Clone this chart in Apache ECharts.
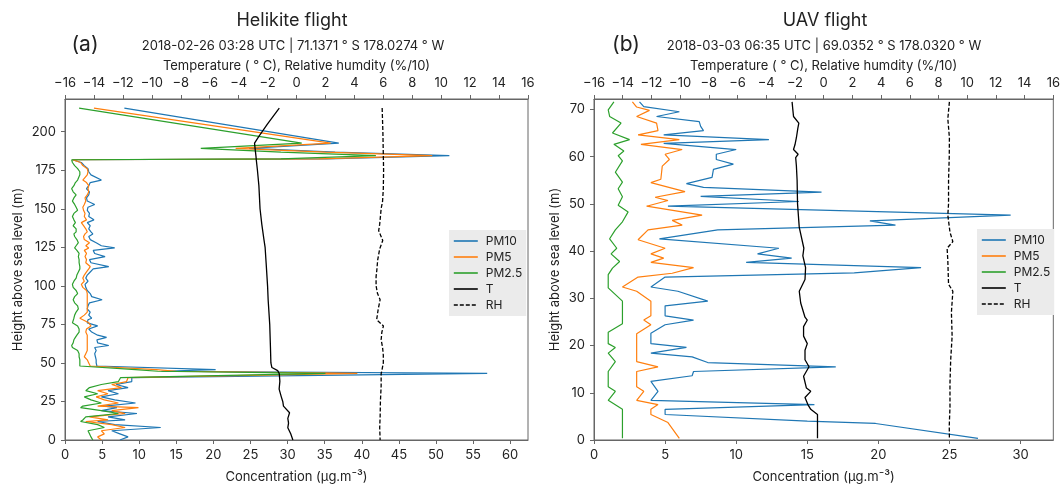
<!DOCTYPE html>
<html>
<head>
<meta charset="utf-8">
<script src="https://cdn.jsdelivr.net/npm/echarts@6/dist/echarts.min.js"></script>
<style>
html,body{margin:0;padding:0;background:#fff;}
#c{width:1063px;height:489px;}
</style>
</head>
<body>
<div id="c"></div>
<script>
// ---------------- DATA ----------------
// Helikite flight (a)
const heliHeight = [215.3,192.6,189.2,186.7,184.5,182.4,181.8,180,178,176,174,172,168.6,167,165,163,161,159,157,155,152.8,151,149,147,145,142.8,141,139,137,135,133.7,132,130,128,126,124.6,123,121,119,117,115,112.5,111,109,107,105,103,101,99,97,95,93,91,89,87,85,83,81,79,78,76,74,72,70,68,66.6,65,63,61.3,60,58,56,54,52,50,48,47.4,45.7,44.6,43.2,40.5,37.9,36,34,32,30,28,26,24,22,21,19,17.2,15,13,12,10,8.1,6,4,2,0];
const heliPM10 = [8.0,36.9,24.8,36.4,51.8,35.3,1.0,2.2,2.6,3.1,3.2,3.5,4.9,3.4,3.2,2.9,3.3,3.2,2.9,3.0,4.0,3.1,3.0,3.3,3.2,3.9,3.0,3.4,3.2,3.5,3.75,3.2,3.4,4.2,4.9,6.7,3.8,4.0,5.4,3.3,3.5,5.9,3.8,3.4,3.0,2.8,3.1,2.7,2.8,3.0,3.4,3.6,5.0,3.3,3.1,3.0,3.4,3.2,3.6,3.1,3.0,4.4,3.2,3.6,4.4,5.6,4.3,4.4,5.9,4.0,4.2,4.0,4.1,4.2,4.2,4.3,4.2,20.3,13.0,56.9,9.0,9.0,6.9,8.5,5.8,7.2,4.9,6.7,9.5,5.3,7.0,4.9,9.7,5.8,8.1,4.4,6.7,12.9,6.3,7.4,8.5,7.4];
const heliPM5 = [3.9,35.8,23.0,35.1,49.5,34.2,1.0,2.1,2.4,3.0,3.1,3.0,2.4,2.9,3.2,3.1,3.2,3.0,2.7,2.8,2.6,2.4,2.5,2.7,2.6,2.9,2.2,2.5,2.8,3.0,2.7,2.5,2.6,3.3,2.8,3.2,2.6,2.9,2.7,2.9,2.8,3.4,3.2,2.9,2.6,2.4,2.6,2.2,2.4,2.9,3.0,3.0,3.0,3.0,3.0,3.0,3.0,2.6,2.0,2.2,3.2,3.5,2.9,2.8,3.0,3.0,3.0,3.0,3.0,3.0,3.0,2.8,2.6,3.0,3.2,3.4,3.5,12.3,15.0,39.4,8.5,8.3,6.3,7.6,4.4,5.8,4.2,5.3,7.2,4.4,9.9,6.3,8.1,3.3,5.8,2.8,6.3,8.1,4.9,5.3,4.4,4.9];
const heliPM25 = [1.9,31.9,18.3,29.1,41.9,29.1,0.9,1.0,1.3,1.7,2.0,2.0,1.7,1.4,1.2,0.9,1.1,1.5,1.2,1.0,1.3,1.5,1.7,1.2,1.0,1.2,1.4,1.1,1.5,1.5,1.2,1.3,1.6,1.8,1.5,1.3,1.6,1.9,1.8,1.9,1.9,2.0,2.0,1.8,1.6,1.5,1.2,1.0,1.1,1.5,1.7,1.3,1.1,1.3,1.7,1.8,1.5,1.3,1.2,1.4,1.0,1.7,1.9,1.9,1.6,1.4,1.2,1.1,0.9,1.0,1.7,1.9,1.9,2.0,2.0,2.0,2.0,9.5,12.5,35.1,7.5,7.2,4.9,3.3,2.8,4.4,2.6,3.5,4.9,2.4,2.1,4.9,7.2,2.8,2.4,2.1,4.4,5.3,3.1,3.3,3.5,3.75];
const heliTHeight = [215.3,205,197,192.6,188,184,181.8,175,165,150,140,130,125,115,100,91,75,60,50,47,45,43,38,33,28,25,22,17.7,14,11,8,4,0];
const heliT = [-1.19,-2.0,-2.6,-2.9,-2.85,-2.8,-2.78,-2.7,-2.6,-2.52,-2.4,-2.25,-2.17,-2.1,-2.0,-1.96,-1.85,-1.8,-1.77,-1.7,-1.3,-1.19,-1.15,-1.2,-1.05,-0.95,-0.9,-0.48,-0.6,-0.55,-0.6,-0.4,-0.25];
const heliRHHeight = [215.3,200,185,175,163,155,150,140,135.8,129.4,124,116.7,110,106,100,95,91,85,78,74,70,65,60,55,50,45,43,35,25,15,8,0];
const heliRH = [5.92,5.97,6.0,6.02,6.0,5.95,5.85,5.75,5.68,5.96,5.75,5.61,5.55,5.5,5.5,5.6,5.78,5.65,5.54,6.01,5.9,5.85,5.95,6.0,6.0,5.9,5.85,5.85,5.8,5.78,5.75,5.78];

// UAV flight (b)
const uavPM10Height = [71.6,70.6,69.5,68.5,67.4,66.4,65.5,64.6,63.6,62.8,61.5,60.5,59.4,58.4,57.3,55.6,54.3,53.5,52.5,51.6,50.5,49.5,47.6,46.4,45.5,44.5,42.6,40.6,39.4,38.5,37.6,36.5,35.4,34.5,32.4,31.5,29.4,28.4,26.3,25.4,24.4,22.6,20.4,19.6,18.4,17.6,16.4,15.5,14.5,13.6,12.4,10.3,8.4,7.5,6.5,5.4,4.0,3.5,0.35];
const uavPM10 = [3.2,3.5,6.0,4.4,7.4,7.5,7.7,4.9,12.3,4.9,10.0,8.6,8.6,9.8,8.4,8.3,6.5,7.7,16.0,7.5,14.4,5.2,29.3,19.4,21.2,8.7,4.6,13.0,11.5,13.9,10.7,23.0,18.3,5.0,4.0,5.9,8.0,5.0,5.0,7.0,5.0,4.0,4.0,6.5,4.0,6.9,8.0,17.0,7.0,6.9,4.0,4.5,4.0,15.5,5.0,5.0,15.0,19.8,27.0];
const uavPM5Height = [71.6,70.5,69.8,68.5,67.1,65.5,64.6,63.6,62.6,61.5,60.5,59.4,58.0,55.2,54.5,52.6,51.4,50.7,49.5,47.6,46.5,45.5,44.5,42.4,40.6,39.4,38.5,37.6,36.5,35.3,34.5,32.4,31.5,29.4,26.3,25.4,24.4,22.5,16.6,15.5,14.5,11.3,10.3,8.4,7.5,6.5,5.4,3.7,0.35];
const uavPM5 = [2.7,3.0,3.9,3.0,4.4,4.5,3.1,6.0,3.3,6.2,5.0,5.3,4.8,4.7,4.0,6.4,4.3,5.2,3.7,7.6,5.5,6.2,3.8,3.1,5.0,4.0,4.9,4.0,7.0,5.5,3.1,2.0,3.0,4.0,4.0,3.5,4.0,3.0,3.0,4.5,3.0,3.0,3.5,3.0,4.5,4.0,4.0,5.2,6.0];
const uavPM25Height = [71.6,69.9,68.5,67.1,65.0,63.6,62.6,61.2,60.2,59.1,56.7,54.6,53.2,51.5,49.7,48.3,46.2,44.5,42.6,40.6,39.4,37.8,36.4,35.0,32.2,29.4,24.6,22.8,20.4,19.6,18.4,16.6,14.5,11.3,10.3,8.4,6.5,0.35];
const uavPM25 = [1.4,1.0,1.1,1.9,1.3,2.5,1.4,2.1,1.7,2.0,1.5,2.0,1.7,2.0,1.7,2.4,2.0,1.5,1.1,1.6,1.2,1.8,1.3,1.0,1.0,2.0,2.0,1.0,1.0,1.5,1.0,1.5,1.0,1.0,1.5,1.0,2.0,2.0];
const uavTHeight = [71.6,70,68.5,67.1,66,64,62.5,61.5,60.5,59.8,58,55,50,45,40.6,39,36.5,34,31.5,29,26,25.4,24,22,20.4,19,17,15.5,13.5,11,10.3,9,7.5,6.5,5.4,3,0.35];
const uavT = [-2.2,-2.15,-2.1,-1.73,-1.8,-1.9,-2.0,-2.1,-1.78,-1.95,-1.9,-1.85,-1.82,-1.7,-1.38,-1.45,-1.26,-1.3,-1.7,-1.6,-1.3,-1.14,-1.4,-1.4,-1.14,-1.3,-1.3,-1.02,-1.4,-1.2,-0.9,-1.3,-1.1,-0.9,-0.43,-0.43,-0.43];
const uavRHHeight = [71.6,68,64,60,55,50,47.6,44,42,40.6,38,33,31.5,27,22,17,12,7,3,0.35];
const uavRH = [8.76,8.65,8.76,8.75,8.7,8.7,8.65,8.8,9.0,8.6,8.65,8.7,9.0,8.9,8.95,8.85,8.8,8.8,8.75,8.76];

// tick labels
const heliConcTicks = [0,5,10,15,20,25,30,35,40,45,50,55,60];
const uavConcTicks = [0,5,10,15,20,25,30];
const tempTicks = [-16,-14,-12,-10,-8,-6,-4,-2,0,2,4,6,8,10,12,14,16];
const heliHeightTicks = [0,25,50,75,100,125,150,175,200];
const uavHeightTicks = [0,10,20,30,40,50,60,70];
const seriesNames = ['PM10','PM5','PM2.5','T','RH'];

// ---------------- CHART ----------------
const FONT = 'Inter, "Noto Sans", sans-serif';
const AX = '#666';
const TXT = '#222';
const COL = {PM10:'#1f77b4', PM5:'#ff7f0e', 'PM2.5':'#2ca02c', T:'#000', RH:'#000'};

function pairs(xs, ys){ return xs.map((x,i)=>[x, ys[i]]); }
const minus = v => String(v).replace('-', '\u2212');

function xAx(grid, pos, min, max, ticks, name, gap){
  return {
    type:'value', gridIndex:grid, position:pos, min:min, max:max,
    name:name, nameLocation:'middle', nameGap:gap,
    nameTextStyle:{fontFamily:FONT, fontSize:13, color:TXT},
    axisLine:{show:true, onZero:false, lineStyle:{color:AX, width:1}},
    axisTick:{show:true, inside:false, length:4, customValues:ticks, lineStyle:{color:AX}},
    axisLabel:{show:true, margin:9, customValues:ticks, formatter:minus, fontFamily:FONT, fontSize:13, color:TXT},
    splitLine:{show:false}
  };
}
function yAx(grid, min, max, ticks, gap){
  return {
    type:'value', gridIndex:grid, position:'left', min:min, max:max,
    name:'Height above sea level (m)', nameLocation:'middle', nameGap:gap, nameRotate:90,
    nameTextStyle:{fontFamily:FONT, fontSize:13, color:TXT},
    axisLine:{show:true, onZero:false, lineStyle:{color:AX, width:1}},
    axisTick:{show:true, length:4, customValues:ticks, lineStyle:{color:AX}},
    axisLabel:{show:true, margin:9, customValues:ticks, fontFamily:FONT, fontSize:13, color:TXT},
    splitLine:{show:false}
  };
}
function line(name, data, xi, yi, dashed){
  return {
    type:'line', name:name, data:data, xAxisIndex:xi, yAxisIndex:yi,
    symbol:'none', showSymbol:false, animation:false, silent:true,
    lineStyle:{color:COL[name], width: (name==='T'||name==='RH') ? 1.3 : 1.2, type: dashed ? [4,2] : 'solid'},
    itemStyle:{color:COL[name]}
  };
}
function legend(left, top){
  return {
    data:seriesNames, orient:'vertical', left:left, top:top,
    backgroundColor:'#ebebeb', borderWidth:0, padding:[5,4,5,4],
    itemWidth:24, itemHeight:12, itemGap:4,
    itemStyle:{opacity:0},
    lineStyle:{width:1.6},
    textStyle:{fontFamily:FONT, fontSize:12, color:TXT, padding:[0,0,0,3]},
    selectedMode:false
  };
}

const option = {
  animation:false,
  backgroundColor:'#fff',
  grid:[
    {left:65, top:99, width:463, height:347, show:true, borderColor:AX, borderWidth:1, backgroundColor:'transparent'},
    {left:594, top:99, width:461, height:345, show:true, borderColor:AX, borderWidth:1, backgroundColor:'transparent'}
  ],
  xAxis:[
    xAx(0,'bottom',0,62.4,heliConcTicks,'Concentration (\u03bcg.m\u207b\u00b3)',31),
    xAx(0,'top',-16,16,tempTicks,'Temperature ( \u00b0 C), Relative humdity (%/10)',25),
    xAx(1,'bottom',0,32.3,uavConcTicks,'Concentration (\u03bcg.m\u207b\u00b3)',31),
    xAx(1,'top',-16,16,tempTicks,'Temperature ( \u00b0 C), Relative humdity (%/10)',25)
  ],
  yAxis:[
    yAx(0,0,221.2,heliHeightTicks,40),
    yAx(1,0,72.2,uavHeightTicks,32)
  ],
  legend:[ legend(449,230), legend(977,229) ],
  series:[
    line('PM10', pairs(heliPM10, heliHeight), 0, 0),
    line('PM5', pairs(heliPM5, heliHeight), 0, 0),
    line('PM2.5', pairs(heliPM25, heliHeight), 0, 0),
    line('T', pairs(heliT, heliTHeight), 1, 0),
    line('RH', pairs(heliRH, heliRHHeight), 1, 0, true),
    line('PM10', pairs(uavPM10, uavPM10Height), 2, 1),
    line('PM5', pairs(uavPM5, uavPM5Height), 2, 1),
    line('PM2.5', pairs(uavPM25, uavPM25Height), 2, 1),
    line('T', pairs(uavT, uavTHeight), 3, 1),
    line('RH', pairs(uavRH, uavRHHeight), 3, 1, true)
  ],
  graphic:[
    {type:'text', x:292, y:21, style:{text:'Helikite flight', font:'18px '+FONT, fill:TXT, textAlign:'center', textVerticalAlign:'middle'}},
    {type:'text', x:85, y:45, style:{text:'(a)', font:'21px '+FONT, fill:TXT, textAlign:'center', textVerticalAlign:'middle'}},
    {type:'text', x:293, y:46, style:{text:'2018-02-26 03:28 UTC | 71.1371 \u00b0 S 178.0274 \u00b0 W', font:'13px '+FONT, fill:TXT, textAlign:'center', textVerticalAlign:'middle'}},
    {type:'text', x:825, y:21, style:{text:'UAV flight', font:'18px '+FONT, fill:TXT, textAlign:'center', textVerticalAlign:'middle'}},
    {type:'text', x:626, y:45, style:{text:'(b)', font:'21px '+FONT, fill:TXT, textAlign:'center', textVerticalAlign:'middle'}},
    {type:'text', x:824, y:46, style:{text:'2018-03-03 06:35 UTC | 69.0352 \u00b0 S 178.0320 \u00b0 W', font:'13px '+FONT, fill:TXT, textAlign:'center', textVerticalAlign:'middle'}}
  ]
};

const chart = echarts.init(document.getElementById('c'), null, {renderer:'canvas'});
chart.setOption(option);
</script>
</body>
</html>
